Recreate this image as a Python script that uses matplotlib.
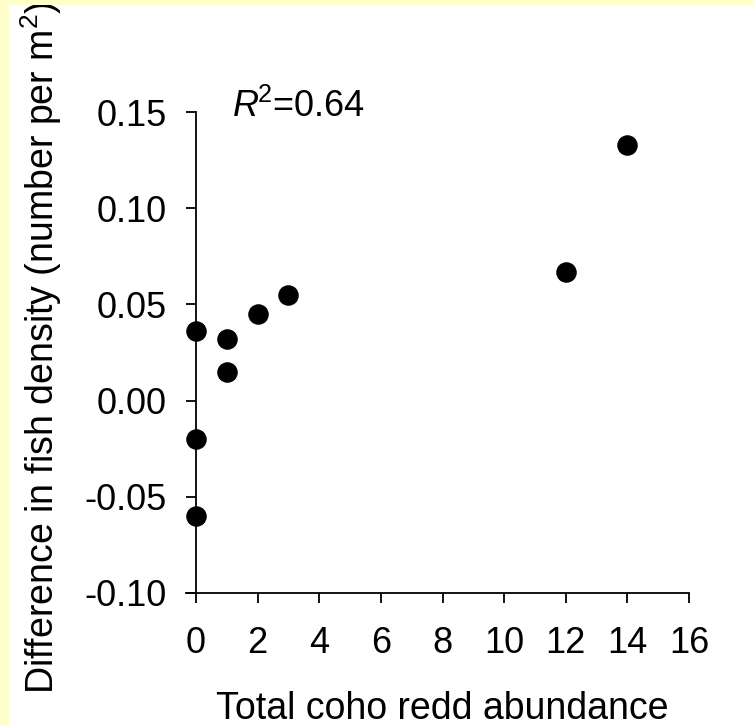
import matplotlib
matplotlib.use("Agg")
import matplotlib.pyplot as plt
from matplotlib.patches import Rectangle

plt.rcParams['font.family'] = ['Liberation Sans', 'DejaVu Sans']
plt.rcParams['mathtext.fontset'] = 'custom'
plt.rcParams['mathtext.rm'] = 'Liberation Sans'
plt.rcParams['mathtext.it'] = 'Liberation Sans:italic'

# Data
redd_abundance = [0, 0, 0, 1, 1, 2, 3, 12, 14]
density_diff = [0.036, -0.020, -0.060, 0.032, 0.015, 0.045, 0.055, 0.067, 0.133]
x_ticks = [0, 2, 4, 6, 8, 10, 12, 14, 16]
y_ticks = [-0.10, -0.05, 0.00, 0.05, 0.10, 0.15]
y_tick_labels = ['-0.10', '-0.05', '0.00', '0.05', '0.10', '0.15']
r2_text = r'$\mathit{R}^{\!2}$=0.64'

W, H = 753, 726
fig = plt.figure(figsize=(W / 100, H / 100), dpi=100)
fig.patch.set_facecolor('white')
# pale yellow strips at top and left edges
fig.patches.append(Rectangle((0, 1 - 5 / H), 1, 5 / H, transform=fig.transFigure,
                             facecolor='#FFFFCC', edgecolor='none', zorder=0))
fig.patches.append(Rectangle((0, 0), 8.5 / W, 1, transform=fig.transFigure,
                             facecolor='#FFFFCC', edgecolor='none', zorder=0))

left, right = 196 / W, 689 / W
bottom, top = 1 - 593 / H, 1 - 112 / H
ax = fig.add_axes([left, bottom, right - left, top - bottom])
ax.set_facecolor('none')

ax.scatter(redd_abundance, density_diff, s=190, color='black', zorder=3, clip_on=False)

ax.set_xlim(0, 16)
ax.set_ylim(-0.10, 0.15)
ax.set_xticks(x_ticks)
ax.set_yticks(y_ticks)
ax.set_yticklabels(y_tick_labels)

for s in ['top', 'right']:
    ax.spines[s].set_visible(False)
for s in ['left', 'bottom']:
    ax.spines[s].set_linewidth(1.3)
ax.spines['bottom'].set_bounds(-0.33, 16)

ax.tick_params(axis='both', direction='out', length=7, width=1.3, labelsize=26, colors='black')
ax.tick_params(axis='x', pad=17)
ax.tick_params(axis='y', pad=14)

ax.set_xlabel('Total coho redd abundance', fontsize=27)
ax.set_ylabel('Difference in fish density (number per m$^2$)', fontsize=27)
ax.xaxis.set_label_coords(0.5, -0.241)
ax.xaxis.label.set_va('center')
ax.yaxis.set_label_coords(-0.315, 0.51)
ax.yaxis.label.set_va('center')

ax.text(1.17, 0.1525, r2_text, fontsize=26, ha='left', va='center')

fig.savefig('out.png', dpi=100, facecolor=fig.get_facecolor())
